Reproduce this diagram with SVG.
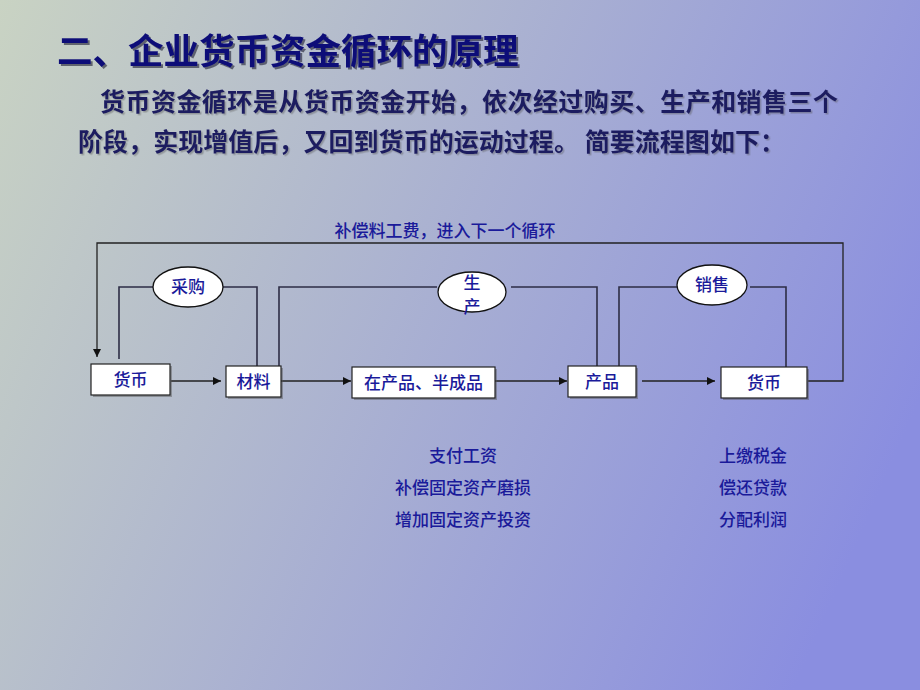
<svg xmlns="http://www.w3.org/2000/svg" width="920" height="690" viewBox="0 0 920 690">
<defs>
<linearGradient id="bg" gradientUnits="userSpaceOnUse" x1="0" y1="0" x2="920" y2="400">
<stop offset="0" stop-color="#c9d3c3"/>
<stop offset="1" stop-color="#8a8ee0"/>
</linearGradient>
<filter id="tshadow" x="-5%" y="-20%" width="110%" height="150%">
<feDropShadow dx="2" dy="2" stdDeviation="0.6" flood-color="#1a1a30" flood-opacity="0.6"/>
</filter>
<filter id="bshadow" x="-5%" y="-20%" width="110%" height="150%">
<feDropShadow dx="1.5" dy="1.5" stdDeviation="0.6" flood-color="#555" flood-opacity="0.4"/>
</filter>
<marker id="arr" viewBox="0 0 10 10" refX="10" refY="5" markerWidth="8" markerHeight="8" markerUnits="userSpaceOnUse" orient="auto">
<path d="M0,0 L10,5 L0,10 Z" fill="#111"/>
</marker>
<style>
.t{font-family:"Noto Sans CJK SC","Noto Sans CJK JP",sans-serif}
.title{font-size:35.5px;font-weight:bold;fill:#0a0a78}
.body{font-size:25px;font-weight:bold;fill:#1c1c60}
.lbl{font-size:17px;font-weight:500;fill:#1a1a9a}
.box{fill:#fff;stroke:#222;stroke-width:1.2}
.bsd{fill:#555;opacity:0.45}
.ell{fill:#fff;stroke:#111;stroke-width:1.3}
.ln{fill:none;stroke:#2d2d45;stroke-width:1.6}
.ar{fill:none;stroke:#222;stroke-width:1.3}
</style>
</defs>
<rect x="0" y="0" width="920" height="690" fill="url(#bg)"/>

<g id="title" filter="url(#tshadow)">
<text class="t title" x="57" y="64">二、企业货币资金循环的原理</text>
</g>
<g id="intro" filter="url(#bshadow)">
<text class="t body" x="100" y="111" textLength="738" lengthAdjust="spacing">货币资金循环是从货币资金开始，依次经过购买、生产和销售三个</text>
<text class="t body" x="78" y="151" textLength="707" lengthAdjust="spacing">阶段，实现增值后，又回到货币的运动过程。 简要流程图如下：</text>
</g>

<g id="connectors">
<polyline class="ar" points="808,381 843,381 843,243 97,243 97,357" marker-end="url(#arr)"/>
<line class="ar" x1="171" y1="381" x2="221" y2="381" marker-end="url(#arr)"/>
<line class="ar" x1="281" y1="381" x2="351" y2="381" marker-end="url(#arr)"/>
<line class="ar" x1="495" y1="381" x2="567" y2="381" marker-end="url(#arr)"/>
<line class="ar" x1="642" y1="381" x2="715" y2="381" marker-end="url(#arr)"/>
<polyline class="ln" points="119,359 119,287 153,287"/>
<polyline class="ln" points="223,287 257,287 257,366"/>
<polyline class="ln" points="279,366 279,287 437,287"/>
<polyline class="ln" points="511,287 597,287 597,366"/>
<polyline class="ln" points="619,366 619,287 677,287"/>
<polyline class="ln" points="750,287 786,287 786,367"/>
</g>

<g id="loop-label">
<text class="t lbl" x="445" y="237" text-anchor="middle">补偿料工费，进入下一个循环</text>
</g>

<g id="n-money1">
<rect class="bsd" x="93" y="366" width="79" height="31"/>
<rect class="box" x="91" y="364" width="79" height="31"/>
<text class="t lbl" x="130.5" y="386" text-anchor="middle">货币</text>
</g>
<g id="n-material">
<rect class="bsd" x="228" y="368" width="55" height="31"/>
<rect class="box" x="226" y="366" width="55" height="31"/>
<text class="t lbl" x="253.5" y="388" text-anchor="middle">材料</text>
</g>
<g id="n-wip">
<rect class="bsd" x="354" y="369" width="143" height="31"/>
<rect class="box" x="352" y="367" width="143" height="31"/>
<text class="t lbl" x="423.5" y="389" text-anchor="middle">在产品、半成品</text>
</g>
<g id="n-product">
<rect class="bsd" x="570" y="368" width="68" height="31"/>
<rect class="box" x="568" y="366" width="68" height="31"/>
<text class="t lbl" x="602" y="388" text-anchor="middle">产品</text>
</g>
<g id="n-money2">
<rect class="bsd" x="723" y="369" width="86" height="31"/>
<rect class="box" x="721" y="367" width="86" height="31"/>
<text class="t lbl" x="764" y="389" text-anchor="middle">货币</text>
</g>

<g id="e-purchase">
<ellipse class="ell" cx="188" cy="287" rx="35" ry="20"/>
<text class="t lbl" x="188" y="293" text-anchor="middle">采购</text>
</g>
<g id="e-production">
<ellipse class="ell" cx="472" cy="292" rx="34" ry="20"/>
<text class="t lbl" x="472" y="289" text-anchor="middle" font-size="16">生</text>
<text class="t lbl" x="472" y="313" text-anchor="middle" font-size="16">产</text>
</g>
<g id="e-sales">
<ellipse class="ell" cx="712" cy="285" rx="35" ry="20"/>
<text class="t lbl" x="712" y="291" text-anchor="middle">销售</text>
</g>

<g id="notes-production">
<text class="t lbl" x="463" y="462" text-anchor="middle">支付工资</text>
<text class="t lbl" x="463" y="494" text-anchor="middle">补偿固定资产磨损</text>
<text class="t lbl" x="463" y="526" text-anchor="middle">增加固定资产投资</text>
</g>
<g id="notes-sales">
<text class="t lbl" x="753" y="462" text-anchor="middle">上缴税金</text>
<text class="t lbl" x="753" y="494" text-anchor="middle">偿还贷款</text>
<text class="t lbl" x="753" y="526" text-anchor="middle">分配利润</text>
</g>
</svg>
